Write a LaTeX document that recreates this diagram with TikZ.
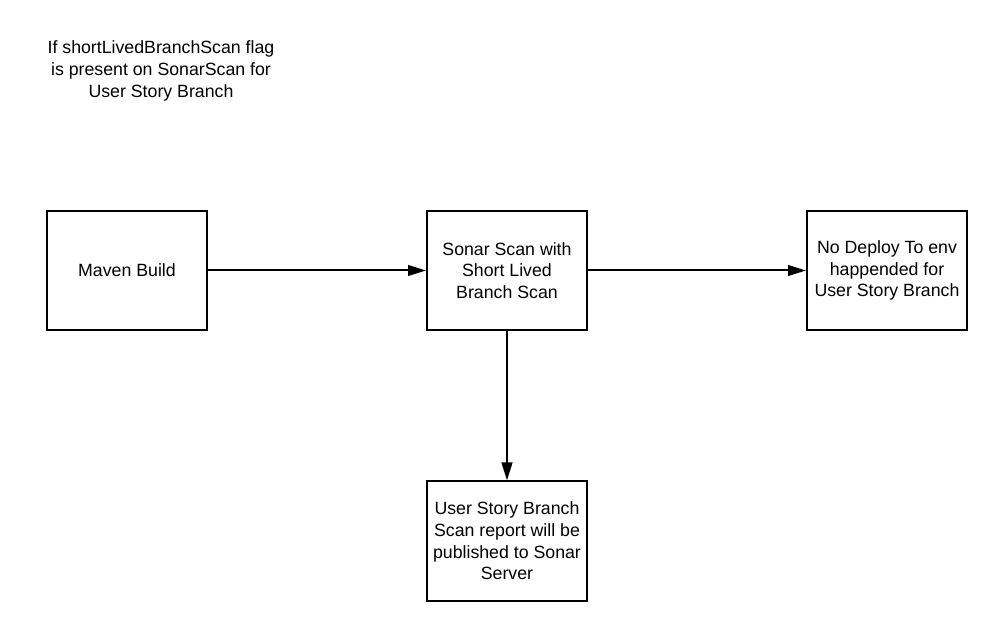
\documentclass[tikz,border=0pt]{standalone}
\usepackage{fontspec}
\setmainfont{Liberation Sans}
\usetikzlibrary{arrows.meta}
\begin{document}
\begin{tikzpicture}[x=0.75pt,y=-0.75pt,
  box/.style={draw=black,line width=1.5pt,minimum width=160*0.75pt,minimum height=119*0.75pt,align=center,inner sep=2pt,font=\fontsize{13.3}{16.2}\selectfont},
  conn/.style={line width=1.5pt,-{Triangle[length=13.5pt,width=8pt]}},
  note/.style={align=center,font=\fontsize{13.3}{16.2}\selectfont}]
\useasboundingbox[fill=white] (0,0) rectangle (1007,641);
\node[note] (title) at (161,71) {If shortLivedBranchScan flag\\is present on SonarScan for\\User Story Branch};
\node[box] (maven) at (127,270.5) {Maven Build};
\node[box] (sonar) at (507,270.5) {Sonar Scan with\\Short Lived\\Branch Scan};
\node[box] (deploy) at (887,270.5) {No Deploy To env\\happended for\\User Story Branch};
\node[box] (report) at (507,541) {User Story Branch\\Scan report will be\\published to Sonar\\Server};
\draw[conn] (maven) -- (sonar);
\draw[conn] (sonar) -- (deploy);
\draw[conn] (sonar) -- (report);
\end{tikzpicture}
\end{document}
